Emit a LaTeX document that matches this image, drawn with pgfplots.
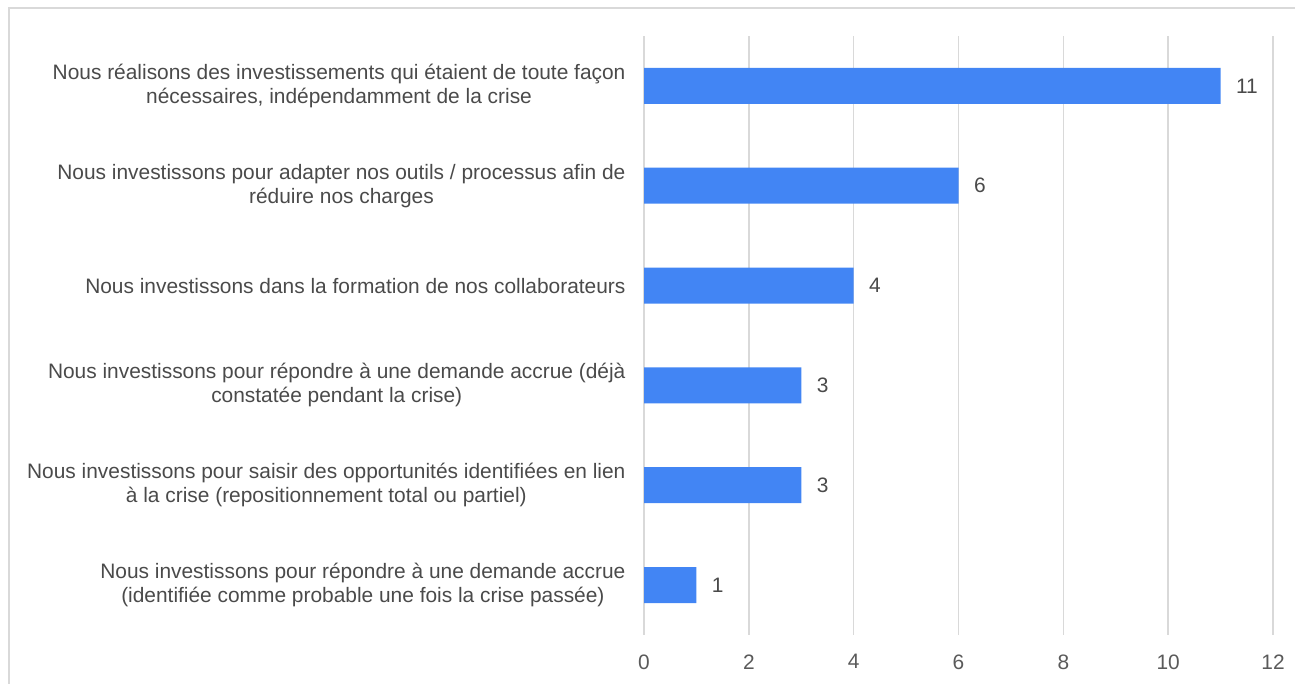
\documentclass[border=0pt]{standalone}
\usepackage{pgfplots}
\pgfplotsset{compat=1.18}
\usepackage{fontspec}
\setmainfont{Liberation Sans}
\definecolor{barblue}{HTML}{4285F4}
\definecolor{txt}{HTML}{4A4A4A}
\definecolor{tick}{HTML}{5A5A5A}
\definecolor{gridc}{HTML}{D9D9D9}
\begin{document}
\begin{tikzpicture}[x=1pt,y=1pt]
\useasboundingbox (0,0) rectangle (1295,684);
\draw[gridc, line width=2.5pt] (9,-5) -- (9,676) -- (1300,676);
\begin{axis}[
  at={(644pt,49pt)}, anchor=south west,
  scale only axis, width=629pt, height=599pt,
  xbar, bar width=36pt,
  xmin=0, xmax=12, ymin=-0.5, ymax=5.5,
  xtick={0,2,4,6,8,10,12},
  ytick={0,1,2,3,4,5},
  yticklabels={
    {Nous investissons pour répondre à une demande accrue\\(identifiée comme probable une fois la crise passée)},
    {Nous investissons pour saisir des opportunités identifiées en lien\\à la crise (repositionnement total ou partiel)},
    {Nous investissons pour répondre à une demande accrue (déjà\\constatée pendant la crise)},
    {Nous investissons dans la formation de nos collaborateurs},
    {Nous investissons pour adapter nos outils / processus afin de\\réduire nos charges},
    {Nous réalisons des investissements qui étaient de toute façon\\nécessaires, indépendamment de la crise}
  },
  axis line style={draw=none},
  major tick length=0pt,
  xmajorgrids, grid style={gridc, line width=1.5pt},
  /pgf/number format/assume math mode=true,
  tick label style={font=\fontsize{20.9}{24}\selectfont},
  xticklabel style={color=tick, yshift=-16pt},
  yticklabel style={color=txt, align=center, xshift=-15pt},
  nodes near coords, point meta=x,
  nodes near coords style={font=\fontsize{20.9}{24}\selectfont, color=txt, xshift=12pt},
]
\addplot[fill=barblue, draw=none] coordinates {(1,0) (3,1) (3,2) (4,3) (6,4) (11,5)};
\end{axis}
\end{tikzpicture}
\end{document}
